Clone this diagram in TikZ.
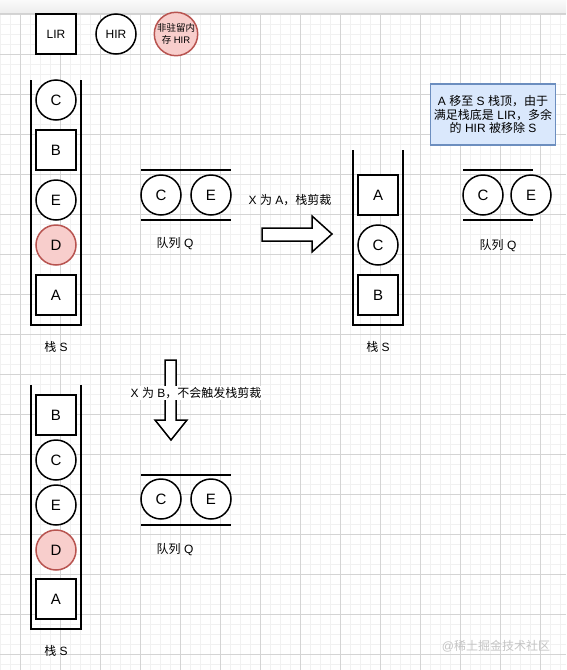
\documentclass[tikz,border=0pt]{standalone}
\usepackage{fontspec}
\setmainfont{Liberation Sans}
\newfontfamily\cjk{Noto Sans CJK SC}
\definecolor{pinkf}{HTML}{F8CECC}
\definecolor{pinkd}{HTML}{B85450}
\definecolor{bluef}{HTML}{DAE8FC}
\definecolor{blued}{HTML}{6C8EBF}
\definecolor{gminor}{HTML}{F1F1F1}
\definecolor{gmajor}{HTML}{D4D4D4}
\definecolor{wm}{HTML}{C4C4C4}
\begin{document}
\begin{tikzpicture}[x=1pt,y=-1pt,
  sq/.style={draw, line width=1.5pt, minimum size=40pt, inner sep=0pt, fill=white, font=\fontsize{15}{18}\selectfont},
  cir/.style={circle, draw, line width=1.5pt, minimum size=40pt, inner sep=0pt, fill=white, font=\fontsize{15}{18}\selectfont},
  nres/.style={cir, fill=pinkf, draw=pinkd},
  small/.style={font=\fontsize{12}{14}\selectfont},
  wall/.style={line width=2pt},
  lbl/.style={font=\fontsize{12}{14}\selectfont, inner sep=1pt},
  blockarrow/.style={draw, line width=1.5pt, fill=white, line join=miter}
]
\useasboundingbox (0,0) rectangle (566,670);
\fill[white] (0,0) rectangle (566,670);
% grid
\foreach \x in {0.5,10.5,...,566} \draw[gminor, line width=0.8pt] (\x,14) -- (\x,670);
\foreach \y in {14,24,...,670} \draw[gminor, line width=0.8pt] (0,\y) -- (566,\y);
\foreach \x in {20.5,60.5,...,566} \draw[gmajor, line width=0.8pt] (\x,14) -- (\x,670);
\foreach \y in {14,54,...,670} \draw[gmajor, line width=0.8pt] (0,\y) -- (566,\y);
% top bar
\shade[top color=gray!4, bottom color=gray!14] (0,0) rectangle (566,13);
\draw[gray!35, line width=0.8pt] (0,13) -- (566,13);

% legend
\node[sq, font=\fontsize{12}{14}\selectfont] (lir) at (56,34) {LIR};
\node[cir, font=\fontsize{12}{14}\selectfont] (hir) at (116,34) {HIR};
\node[nres, font=\fontsize{9.5}{12.5}\selectfont, align=center] (nhir) at (176,34) {{\cjk 非驻留内}\\{\cjk 存} HIR};

% stack 1
\draw[wall] (31,80) -- (31,325) -- (81,325) -- (81,80);
\node[cir] (s1c) at (56,100) {C};
\node[sq] (s1b) at (56,150) {B};
\node[cir] (s1e) at (56,200) {E};
\node[nres] (s1d) at (56,245) {D};
\node[sq] (s1a) at (56,295) {A};
\node[lbl] (s1l) at (56,347) {{\cjk 栈} S};

% queue 1
\draw[wall] (141,170) -- (231,170);
\draw[wall] (141,220) -- (231,220);
\node[cir] (q1c) at (161,195) {C};
\node[cir] (q1e) at (211,195) {E};
\node[lbl] (q1l) at (175,244) {{\cjk 队列} Q};

% right arrow
\draw[blockarrow] (262,228) -- (312,228) -- (312,216) -- (332,234) -- (312,252) -- (312,241) -- (262,241) -- cycle;
\node[lbl] (ra) at (290,200) {X {\cjk 为} A{\cjk ，栈剪裁}};

% stack 2
\draw[wall] (353,150) -- (353,325) -- (403,325) -- (403,150);
\node[sq] (s2a) at (378,195) {A};
\node[cir] (s2c) at (378,245) {C};
\node[sq] (s2b) at (378,295) {B};
\node[lbl] (s2l) at (378,347) {{\cjk 栈} S};

% queue 2
\draw[wall] (463,170) -- (533,170);
\draw[wall] (463,220) -- (533,220);
\node[cir] (q2c) at (483,195) {C};
\node[cir] (q2e) at (531,195) {E};
\node[lbl] (q2l) at (498,246) {{\cjk 队列} Q};

% note
\node[draw=blued, fill=bluef, line width=1.2pt, minimum width=125pt, minimum height=61pt, align=center,
  font=\fontsize{12}{13.8}\selectfont, inner sep=2pt] (note) at (493,114.5)
  {A {\cjk 移至} S {\cjk 栈顶，由于}\\{\cjk 满足栈底是} LIR{\cjk ，多余}\\{\cjk 的} HIR {\cjk 被移除} S};

% down arrow
\draw[blockarrow] (165,360) -- (176,360) -- (176,420) -- (187,420) -- (171,440) -- (155,420) -- (165,420) -- cycle;
\node[lbl, fill=white] (da) at (196,393) {X {\cjk 为} B{\cjk ，不会触发栈剪裁}};

% stack 3
\draw[wall] (31,385) -- (31,629) -- (81,629) -- (81,385);
\node[sq] (s3b) at (56,415) {B};
\node[cir] (s3c) at (56,460) {C};
\node[cir] (s3e) at (56,505) {E};
\node[nres] (s3d) at (56,550) {D};
\node[sq] (s3a) at (56,599) {A};
\node[lbl] (s3l) at (56,651) {{\cjk 栈} S};

% queue 3
\draw[wall] (141,475) -- (231,475);
\draw[wall] (141,525) -- (231,525);
\node[cir] (q3c) at (161,499) {C};
\node[cir] (q3e) at (211,499) {E};
\node[lbl] (q3l) at (175,550) {{\cjk 队列} Q};

% watermark
\node[text=wm, font=\fontsize{12}{14}\selectfont] (wmk) at (496,646) {@{\cjk 稀土掘金技术社区}};
\end{tikzpicture}
\end{document}
